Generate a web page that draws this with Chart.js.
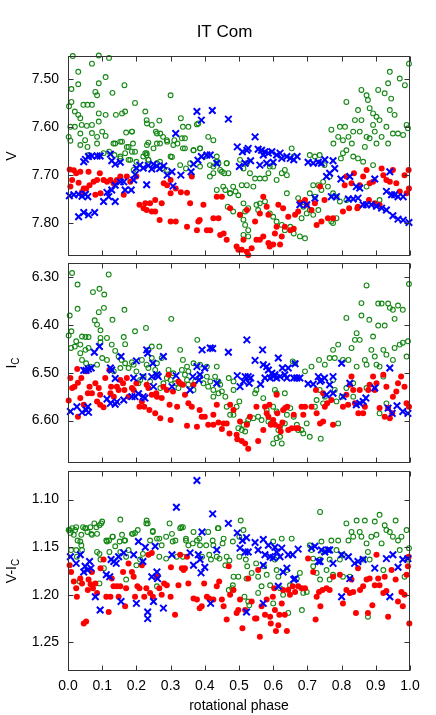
<!DOCTYPE html>
<html>
<head>
<meta charset="utf-8">
<script src="https://cdn.jsdelivr.net/npm/chart.js@4.4.1/dist/chart.umd.min.js"></script>
<style>
  html, body { margin: 0; padding: 0; background: #fff; }
  #wrap { position: relative; width: 436px; height: 715px; }
  #wrap canvas { position: absolute; left: 0; top: 0; }
</style>
</head>
<body>
<div id="wrap">
  <canvas id="c1" width="436" height="715"></canvas>
  <canvas id="c2" width="436" height="715"></canvas>
  <canvas id="c3" width="436" height="715"></canvas>
</div>
<script>
const titleText = 'IT Com';
const xTitle = 'rotational phase';
const xTicks = [0, 0.1, 0.2, 0.3, 0.4, 0.5, 0.6, 0.7, 0.8, 0.9, 1.0];
const vTicks = [7.50, 7.60, 7.70, 7.80];
const iTicks = [6.30, 6.40, 6.50, 6.60];
const ciTicks = [1.10, 1.15, 1.20, 1.25];

// [phase, magnitude] pairs
const vGreen = [[0.014,7.451],[0.03,7.484],[0.01,7.52],[0.03,7.51],[0.09,7.45],[0.12,7.455],[0.07,7.467],[0.11,7.495],[0.09,7.508],[0.08,7.526],[0.085,7.533],[0.13,7.528],[0.165,7.512],[0.003,7.556],[0.01,7.547],[0.045,7.553],[0.057,7.553],[0.07,7.553],[0.02,7.567],[0.03,7.574],[0.036,7.581],[0.11,7.574],[0.09,7.571],[0.14,7.574],[0.158,7.571],[0.167,7.567],[0.196,7.549],[0.007,7.599],[0.02,7.599],[0.04,7.595],[0.055,7.597],[0.07,7.595],[0.09,7.588],[0.002,7.62],[0.007,7.628],[0.036,7.613],[0.05,7.627],[0.07,7.612],[0.085,7.62],[0.1,7.609],[0.11,7.618],[0.036,7.637],[0.057,7.641],[0.085,7.634],[0.133,7.634],[0.153,7.63],[0.17,7.611],[0.187,7.609],[0.172,7.641],[0.19,7.634],[0.187,7.651],[0.06,7.658],[0.104,7.654],[0.12,7.651],[0.136,7.658],[0.153,7.661],[0.177,7.668],[0.2,7.672],[0.22,7.661],[0.23,7.658],[0.235,7.668],[0.26,7.675],[0.29,7.689],[0.275,7.686],[0.226,7.567],[0.23,7.585],[0.245,7.595],[0.267,7.586],[0.257,7.609],[0.27,7.613],[0.3,7.533],[0.33,7.581],[0.336,7.599],[0.311,7.627],[0.342,7.623],[0.336,7.644],[0.32,7.634],[0.29,7.63],[0.278,7.62],[0.26,7.634],[0.235,7.632],[0.23,7.654],[0.3,7.661],[0.367,7.648],[0.386,7.644],[0.377,7.594],[0.41,7.62],[0.425,7.627],[0.4,7.661],[0.435,7.661],[0.44,7.675],[0.425,7.682],[0.45,7.693],[0.464,7.675],[0.457,7.696],[0.386,7.682],[0.345,7.686],[0.46,7.731],[0.474,7.738],[0.49,7.734],[0.467,7.766],[0.483,7.776],[0.503,7.783],[0.518,7.776],[0.527,7.769],[0.513,7.793],[0.518,7.804],[0.527,7.815],[0.513,7.825],[0.527,7.828],[0.503,7.668],[0.513,7.686],[0.523,7.675],[0.532,7.696],[0.547,7.707],[0.561,7.707],[0.576,7.707],[0.523,7.721],[0.542,7.724],[0.551,7.762],[0.561,7.759],[0.556,7.773],[0.576,7.755],[0.586,7.696],[0.59,7.682],[0.6,7.682],[0.61,7.71],[0.625,7.696],[0.64,7.7],[0.634,7.689],[0.66,7.661],[0.654,7.644],[0.64,7.738],[0.59,7.78],[0.6,7.787],[0.61,7.797],[0.625,7.804],[0.634,7.815],[0.65,7.808],[0.66,7.822],[0.678,7.828],[0.693,7.832],[0.673,7.748],[0.688,7.766],[0.683,7.79],[0.698,7.78],[0.707,7.773],[0.717,7.783],[0.732,7.773],[0.722,7.745],[0.707,7.738],[0.717,7.721],[0.732,7.721],[0.741,7.731],[0.746,7.714],[0.76,7.724],[0.775,7.738],[0.785,7.745],[0.77,7.797],[0.785,7.79],[0.775,7.8],[0.707,7.658],[0.722,7.661],[0.736,7.658],[0.75,7.679],[0.765,7.703],[0.77,7.605],[0.795,7.599],[0.81,7.599],[0.804,7.627],[0.79,7.62],[0.776,7.634],[0.82,7.62],[0.83,7.634],[0.834,7.609],[0.814,7.547],[0.839,7.585],[0.848,7.564],[0.858,7.522],[0.873,7.533],[0.877,7.543],[0.858,7.585],[0.853,7.609],[0.873,7.62],[0.868,7.641],[0.834,7.661],[0.848,7.665],[0.863,7.672],[0.814,7.648],[0.804,7.654],[0.798,7.665],[0.882,7.56],[0.892,7.571],[0.902,7.578],[0.911,7.585],[0.892,7.595],[0.897,7.609],[0.882,7.623],[0.902,7.634],[0.907,7.522],[0.926,7.529],[0.945,7.54],[0.936,7.508],[0.941,7.484],[0.97,7.498],[0.985,7.512],[0.997,7.467],[0.917,7.62],[0.931,7.599],[0.941,7.564],[0.955,7.574],[0.95,7.613],[0.965,7.613],[0.98,7.616],[0.994,7.602],[0.99,7.595],[0.936,7.634],[0.892,7.679],[0.911,7.752],[0.795,7.755],[0.814,7.752],[0.873,7.724],
  [0.138,7.634],[0.158,7.63],[0.177,7.641],[0.196,7.651],[0.167,7.654],[0.153,7.665],[0.182,7.668],[0.231,7.637],[0.25,7.644],[0.269,7.634],[0.289,7.627],[0.308,7.637],[0.333,7.623],[0.342,7.644],[0.367,7.648],[0.386,7.644],[0.26,7.613],[0.187,7.609],[0.226,7.654],[0.235,7.668],[0.304,7.662],[0.328,7.679],[0.357,7.675],[0.415,7.679],[0.435,7.672],[0.445,7.689],[0.425,7.696],[0.464,7.675],[0.469,7.696],[0.415,7.703],[0.454,7.724],[0.483,7.724],[0.508,7.721],[0.498,7.742],[0.474,7.738],[0.513,7.759],[0.435,7.731],[0.352,7.599],[0.381,7.592],[0.231,7.592],[0.269,7.672],[0.192,7.689]];
const vBlue = [[0.004,7.743],[0.017,7.741],[0.031,7.74],[0.041,7.744],[0.051,7.74],[0.058,7.745],[0.031,7.787],[0.046,7.778],[0.06,7.783],[0.078,7.778],[0.046,7.672],[0.051,7.667],[0.06,7.661],[0.07,7.66],[0.085,7.66],[0.094,7.66],[0.124,7.656],[0.128,7.67],[0.138,7.677],[0.153,7.673],[0.104,7.755],[0.114,7.736],[0.119,7.745],[0.128,7.731],[0.138,7.755],[0.138,7.721],[0.153,7.714],[0.163,7.714],[0.167,7.731],[0.185,7.731],[0.192,7.71],[0.196,7.699],[0.2,7.685],[0.21,7.679],[0.22,7.685],[0.23,7.72],[0.235,7.68],[0.245,7.687],[0.25,7.677],[0.26,7.681],[0.268,7.686],[0.28,7.681],[0.29,7.7],[0.304,7.693],[0.307,7.723],[0.315,7.613],[0.33,7.7],[0.36,7.693],[0.377,7.567],[0.39,7.585],[0.422,7.565],[0.469,7.583],[0.367,7.677],[0.38,7.669],[0.39,7.661],[0.406,7.658],[0.416,7.658],[0.435,7.675],[0.495,7.641],[0.501,7.682],[0.51,7.651],[0.523,7.648],[0.527,7.644],[0.518,7.675],[0.534,7.67],[0.547,7.62],[0.556,7.646],[0.566,7.648],[0.576,7.651],[0.571,7.658],[0.561,7.679],[0.581,7.675],[0.586,7.654],[0.596,7.651],[0.6,7.673],[0.61,7.658],[0.62,7.654],[0.625,7.665],[0.64,7.661],[0.65,7.665],[0.66,7.668],[0.67,7.661],[0.678,7.762],[0.698,7.762],[0.702,7.673],[0.717,7.675],[0.732,7.673],[0.741,7.675],[0.722,7.748],[0.751,7.668],[0.756,7.703],[0.765,7.696],[0.775,7.67],[0.78,7.686],[0.77,7.745],[0.785,7.745],[0.798,7.708],[0.82,7.75],[0.824,7.703],[0.834,7.75],[0.848,7.748],[0.843,7.724],[0.853,7.727],[0.863,7.762],[0.873,7.762],[0.887,7.762],[0.897,7.708],[0.902,7.765],[0.917,7.769],[0.931,7.773],[0.941,7.693],[0.931,7.734],[0.946,7.741],[0.955,7.741],[0.965,7.745],[0.98,7.745],[0.95,7.785],[0.965,7.792],[0.98,7.794],[0.997,7.799]];
const vRed = [[0.005,7.688],[0.007,7.724],[0.012,7.71],[0.017,7.69],[0.024,7.696],[0.036,7.693],[0.031,7.716],[0.041,7.735],[0.046,7.728],[0.053,7.728],[0.06,7.693],[0.063,7.721],[0.075,7.714],[0.08,7.741],[0.085,7.71],[0.093,7.696],[0.095,7.738],[0.104,7.71],[0.114,7.714],[0.124,7.71],[0.133,7.717],[0.143,7.71],[0.153,7.703],[0.163,7.741],[0.172,7.703],[0.182,7.714],[0.2,7.703],[0.209,7.762],[0.221,7.769],[0.226,7.759],[0.23,7.773],[0.24,7.759],[0.245,7.776],[0.255,7.752],[0.255,7.776],[0.268,7.794],[0.274,7.759],[0.28,7.717],[0.29,7.721],[0.3,7.71],[0.3,7.738],[0.3,7.797],[0.315,7.797],[0.315,7.728],[0.33,7.736],[0.348,7.737],[0.348,7.808],[0.357,7.759],[0.362,7.703],[0.377,7.815],[0.381,7.797],[0.385,7.794],[0.396,7.762],[0.406,7.815],[0.416,7.815],[0.425,7.79],[0.44,7.79],[0.435,7.745],[0.45,7.745],[0.445,7.825],[0.455,7.822],[0.464,7.835],[0.474,7.769],[0.493,7.849],[0.498,7.856],[0.508,7.856],[0.523,7.86],[0.527,7.867],[0.513,7.835],[0.537,7.853],[0.503,7.783],[0.523,7.773],[0.547,7.797],[0.551,7.835],[0.561,7.835],[0.571,7.828],[0.561,7.78],[0.571,7.745],[0.581,7.766],[0.586,7.783],[0.586,7.842],[0.59,7.849],[0.6,7.845],[0.605,7.822],[0.61,7.808],[0.615,7.762],[0.62,7.845],[0.625,7.828],[0.629,7.769],[0.634,7.808],[0.644,7.787],[0.65,7.815],[0.66,7.812],[0.664,7.783],[0.673,7.776],[0.678,7.757],[0.693,7.752],[0.698,7.762],[0.712,7.773],[0.722,7.759],[0.727,7.804],[0.737,7.724],[0.741,7.797],[0.75,7.752],[0.76,7.79],[0.775,7.79],[0.804,7.776],[0.809,7.721],[0.814,7.703],[0.822,7.769],[0.829,7.717],[0.836,7.696],[0.846,7.769],[0.848,7.766],[0.853,7.721],[0.863,7.703],[0.873,7.689],[0.882,7.717],[0.892,7.714],[0.897,7.759],[0.917,7.686],[0.922,7.7],[0.931,7.71],[0.941,7.714],[0.95,7.689],[0.96,7.717],[0.97,7.734],[0.984,7.7],[0.99,7.738],[0.996,7.689],[0.997,7.728],[0.911,7.762],[0.88,7.752]];

const iGreen = [[0.012,6.291],[0.005,6.38],[0.002,6.422],[0.01,6.413],[0.009,6.448],[0.02,6.445],[0.028,6.315],[0.028,6.366],[0.024,6.434],[0.036,6.441],[0.041,6.424],[0.051,6.425],[0.06,6.425],[0.036,6.459],[0.051,6.452],[0.06,6.448],[0.041,6.473],[0.053,6.48],[0.066,6.487],[0.073,6.331],[0.092,6.324],[0.078,6.39],[0.085,6.399],[0.095,6.411],[0.09,6.373],[0.105,6.364],[0.106,6.336],[0.119,6.294],[0.114,6.427],[0.095,6.427],[0.095,6.436],[0.085,6.483],[0.1,6.469],[0.114,6.473],[0.13,6.389],[0.128,6.441],[0.138,6.454],[0.148,6.466],[0.163,6.425],[0.167,6.44],[0.165,6.368],[0.157,6.473],[0.167,6.48],[0.153,6.49],[0.134,6.497],[0.187,6.478],[0.196,6.413],[0.2,6.497],[0.216,6.473],[0.228,6.406],[0.235,6.452],[0.245,6.445],[0.221,6.508],[0.211,6.515],[0.235,6.49],[0.245,6.469],[0.26,6.48],[0.267,6.445],[0.274,6.469],[0.26,6.504],[0.279,6.522],[0.294,6.494],[0.302,6.387],[0.308,6.501],[0.3,6.515],[0.328,6.452],[0.336,6.473],[0.333,6.494],[0.342,6.504],[0.352,6.497],[0.367,6.48],[0.378,6.431],[0.386,6.483],[0.352,6.525],[0.367,6.536],[0.386,6.508],[0.396,6.522],[0.406,6.487],[0.41,6.529],[0.416,6.518],[0.425,6.536],[0.435,6.487],[0.43,6.508],[0.44,6.543],[0.45,6.539],[0.425,6.55],[0.44,6.518],[0.46,6.55],[0.464,6.571],[0.47,6.511],[0.484,6.536],[0.474,6.588],[0.484,6.588],[0.493,6.571],[0.501,6.56],[0.498,6.616],[0.508,6.62],[0.518,6.623],[0.513,6.609],[0.523,6.606],[0.527,6.599],[0.547,6.543],[0.551,6.536],[0.542,6.595],[0.556,6.592],[0.566,6.599],[0.571,6.553],[0.581,6.578],[0.586,6.602],[0.593,6.606],[0.6,6.571],[0.605,6.536],[0.61,6.543],[0.61,6.581],[0.615,6.62],[0.62,6.634],[0.61,6.637],[0.6,6.648],[0.625,6.648],[0.62,6.613],[0.634,6.606],[0.634,6.543],[0.64,6.588],[0.65,6.574],[0.657,6.476],[0.664,6.48],[0.66,6.592],[0.669,6.609],[0.673,6.62],[0.683,6.62],[0.688,6.627],[0.693,6.497],[0.698,6.606],[0.707,6.634],[0.712,6.487],[0.722,6.571],[0.727,6.557],[0.734,6.473],[0.736,6.536],[0.739,6.638],[0.746,6.564],[0.751,6.483],[0.765,6.469],[0.775,6.452],[0.78,6.469],[0.79,6.441],[0.78,6.536],[0.785,6.56],[0.79,6.606],[0.8,6.55],[0.804,6.473],[0.814,6.385],[0.82,6.473],[0.829,6.448],[0.834,6.522],[0.844,6.417],[0.839,6.431],[0.853,6.431],[0.858,6.354],[0.858,6.38],[0.868,6.473],[0.873,6.317],[0.873,6.483],[0.881,6.389],[0.887,6.452],[0.892,6.424],[0.897,6.466],[0.902,6.483],[0.907,6.355],[0.917,6.355],[0.907,6.401],[0.926,6.401],[0.922,6.452],[0.936,6.355],[0.941,6.364],[0.95,6.368],[0.955,6.387],[0.965,6.359],[0.979,6.368],[0.97,6.441],[0.979,6.437],[0.994,6.434],[0.997,6.314],[0.955,6.448],[0.95,6.473],[0.931,6.462],[0.911,6.487],[0.99,6.466],[0.844,6.487],[0.814,6.532],[0.834,6.55],[0.873,6.532],[0.911,6.585],[0.931,6.564],[0.922,6.508],[0.775,6.515],[0.751,6.55],
  [0.177,6.49],[0.192,6.483],[0.206,6.522],[0.24,6.518],[0.255,6.494],[0.289,6.511],[0.314,6.522],[0.348,6.515],[0.372,6.518],[0.406,6.508],[0.445,6.525],[0.484,6.518],[0.348,6.487],[0.323,6.532],[0.27,6.532],[0.23,6.483]];
const iBlue = [[0.007,6.581],[0.026,6.571],[0.041,6.583],[0.053,6.578],[0.06,6.583],[0.058,6.571],[0.046,6.495],[0.053,6.495],[0.06,6.492],[0.068,6.49],[0.077,6.457],[0.092,6.445],[0.114,6.555],[0.124,6.564],[0.138,6.566],[0.143,6.561],[0.163,6.557],[0.124,6.49],[0.128,6.494],[0.138,6.512],[0.155,6.466],[0.187,6.55],[0.196,6.55],[0.206,6.544],[0.22,6.55],[0.225,6.553],[0.192,6.511],[0.2,6.475],[0.219,6.508],[0.23,6.452],[0.233,6.459],[0.245,6.508],[0.248,6.48],[0.25,6.529],[0.26,6.504],[0.264,6.508],[0.279,6.466],[0.304,6.529],[0.316,6.506],[0.357,6.536],[0.365,6.508],[0.377,6.487],[0.383,6.515],[0.386,6.504],[0.392,6.452],[0.4,6.49],[0.416,6.448],[0.423,6.449],[0.435,6.522],[0.469,6.457],[0.495,6.506],[0.503,6.529],[0.513,6.518],[0.518,6.508],[0.523,6.431],[0.527,6.508],[0.53,6.522],[0.534,6.511],[0.547,6.474],[0.563,6.524],[0.569,6.452],[0.571,6.483],[0.576,6.511],[0.581,6.487],[0.586,6.494],[0.591,6.511],[0.596,6.501],[0.6,6.508],[0.605,6.504],[0.61,6.511],[0.615,6.469],[0.62,6.508],[0.627,6.49],[0.634,6.504],[0.64,6.511],[0.644,6.49],[0.66,6.511],[0.664,6.481],[0.669,6.511],[0.678,6.511],[0.702,6.523],[0.717,6.524],[0.732,6.508],[0.737,6.518],[0.741,6.515],[0.75,6.511],[0.765,6.525],[0.775,6.508],[0.756,6.546],[0.775,6.543],[0.8,6.48],[0.804,6.55],[0.824,6.522],[0.843,6.567],[0.853,6.564],[0.863,6.56],[0.871,6.553],[0.897,6.532],[0.936,6.574],[0.948,6.585],[0.962,6.569],[0.979,6.581],[0.994,6.585],[0.941,6.49]];
const iRed = [[0.002,6.558],[0.007,6.511],[0.012,6.532],[0.019,6.529],[0.027,6.492],[0.029,6.521],[0.029,6.592],[0.036,6.553],[0.039,6.511],[0.046,6.567],[0.053,6.497],[0.058,6.543],[0.063,6.529],[0.07,6.543],[0.08,6.522],[0.085,6.56],[0.09,6.532],[0.094,6.546],[0.094,6.567],[0.104,6.572],[0.109,6.511],[0.121,6.494],[0.124,6.543],[0.126,6.529],[0.134,6.55],[0.143,6.529],[0.148,6.536],[0.153,6.515],[0.161,6.522],[0.165,6.536],[0.172,6.511],[0.177,6.55],[0.187,6.532],[0.192,6.536],[0.2,6.522],[0.209,6.571],[0.216,6.56],[0.223,6.571],[0.23,6.525],[0.235,6.532],[0.238,6.578],[0.245,6.546],[0.255,6.585],[0.258,6.543],[0.26,6.55],[0.27,6.595],[0.274,6.553],[0.279,6.529],[0.289,6.536],[0.294,6.504],[0.297,6.567],[0.3,6.599],[0.307,6.539],[0.319,6.571],[0.323,6.518],[0.328,6.522],[0.336,6.525],[0.342,6.546],[0.348,6.611],[0.352,6.564],[0.362,6.571],[0.367,6.525],[0.377,6.613],[0.385,6.578],[0.391,6.592],[0.4,6.592],[0.41,6.609],[0.425,6.609],[0.425,6.588],[0.435,6.567],[0.44,6.604],[0.45,6.618],[0.455,6.606],[0.464,6.606],[0.472,6.627],[0.474,6.567],[0.484,6.578],[0.493,6.63],[0.495,6.639],[0.503,6.602],[0.508,6.643],[0.518,6.648],[0.527,6.659],[0.523,6.609],[0.532,6.592],[0.551,6.571],[0.556,6.643],[0.571,6.62],[0.576,6.571],[0.581,6.585],[0.586,6.592],[0.589,6.567],[0.593,6.609],[0.6,6.599],[0.605,6.609],[0.61,6.546],[0.612,6.585],[0.618,6.613],[0.622,6.623],[0.627,6.604],[0.629,6.578],[0.635,6.574],[0.641,6.571],[0.644,6.62],[0.654,6.616],[0.66,6.588],[0.667,6.616],[0.673,6.616],[0.683,6.571],[0.688,6.588],[0.693,6.571],[0.712,6.571],[0.725,6.536],[0.727,6.585],[0.737,6.606],[0.746,6.602],[0.746,6.543],[0.751,6.571],[0.758,6.564],[0.77,6.557],[0.775,6.609],[0.804,6.571],[0.814,6.546],[0.819,6.567],[0.824,6.525],[0.829,6.508],[0.834,6.536],[0.839,6.564],[0.849,6.585],[0.853,6.536],[0.863,6.585],[0.868,6.571],[0.878,6.536],[0.882,6.525],[0.892,6.508],[0.897,6.536],[0.902,6.522],[0.911,6.574],[0.922,6.504],[0.931,6.529],[0.936,6.574],[0.941,6.595],[0.95,6.55],[0.96,6.539],[0.965,6.522],[0.974,6.508],[0.984,6.529],[0.99,6.564],[0.997,6.571],[0.948,6.585],[0.926,6.592]];

const ciGreen = [[0.002,1.132],[0.007,1.135],[0.012,1.13],[0.017,1.137],[0.021,1.132],[0.028,1.143],[0.036,1.144],[0.044,1.129],[0.05,1.13],[0.057,1.134],[0.065,1.129],[0.07,1.137],[0.077,1.125],[0.085,1.136],[0.092,1.127],[0.1,1.123],[0.009,1.153],[0.041,1.153],[0.026,1.16],[0.085,1.155],[0.095,1.163],[0.114,1.144],[0.12,1.143],[0.105,1.172],[0.13,1.139],[0.138,1.149],[0.153,1.121],[0.158,1.137],[0.167,1.143],[0.153,1.155],[0.177,1.153],[0.187,1.136],[0.196,1.135],[0.2,1.169],[0.211,1.163],[0.23,1.122],[0.233,1.125],[0.24,1.143],[0.248,1.133],[0.26,1.141],[0.274,1.148],[0.267,1.16],[0.26,1.191],[0.297,1.125],[0.304,1.136],[0.314,1.143],[0.318,1.16],[0.328,1.13],[0.336,1.129],[0.345,1.143],[0.352,1.148],[0.367,1.134],[0.377,1.143],[0.386,1.148],[0.392,1.16],[0.41,1.134],[0.425,1.148],[0.418,1.163],[0.435,1.16],[0.44,1.13],[0.455,1.141],[0.46,1.169],[0.464,1.16],[0.47,1.195],[0.48,1.193],[0.484,1.181],[0.498,1.181],[0.505,1.122],[0.513,1.132],[0.52,1.163],[0.524,1.17],[0.537,1.177],[0.522,1.183],[0.516,1.202],[0.527,1.207],[0.53,1.211],[0.55,1.167],[0.556,1.181],[0.556,1.198],[0.566,1.191],[0.573,1.17],[0.581,1.179],[0.591,1.19],[0.6,1.144],[0.605,1.163],[0.61,1.174],[0.615,1.181],[0.62,1.193],[0.6,1.209],[0.629,1.2],[0.625,1.141],[0.64,1.174],[0.644,1.219],[0.649,1.19],[0.654,1.141],[0.669,1.183],[0.678,1.177],[0.684,1.216],[0.688,1.198],[0.698,1.197],[0.707,1.148],[0.712,1.153],[0.717,1.17],[0.717,1.162],[0.727,1.177],[0.737,1.113],[0.741,1.144],[0.737,1.163],[0.746,1.155],[0.756,1.174],[0.761,1.153],[0.765,1.163],[0.77,1.143],[0.775,1.179],[0.785,1.153],[0.79,1.143],[0.795,1.163],[0.804,1.158],[0.814,1.125],[0.82,1.143],[0.829,1.134],[0.834,1.139],[0.844,1.122],[0.853,1.134],[0.858,1.139],[0.868,1.122],[0.873,1.146],[0.877,1.155],[0.882,1.163],[0.877,1.223],[0.887,1.139],[0.897,1.123],[0.902,1.137],[0.911,1.116],[0.917,1.146],[0.926,1.127],[0.931,1.132],[0.941,1.134],[0.95,1.139],[0.958,1.122],[0.965,1.143],[0.97,1.153],[0.975,1.139],[0.984,1.181],[0.99,1.132],[0.997,1.151],[0.994,1.163],[0.922,1.174],[0.863,1.163],[0.824,1.181],[0.804,1.181],[0.737,1.184],[0.765,1.184],
  [0.005,1.132],[0.024,1.129],[0.039,1.137],[0.053,1.13],[0.068,1.136],[0.083,1.129],[0.097,1.125],[0.112,1.143],[0.131,1.139],[0.151,1.144],[0.165,1.143],[0.19,1.136],[0.204,1.132],[0.229,1.125],[0.248,1.134],[0.267,1.141],[0.287,1.139],[0.306,1.144],[0.331,1.129],[0.345,1.141],[0.365,1.146],[0.384,1.141],[0.404,1.148],[0.423,1.143],[0.438,1.13],[0.452,1.146],[0.482,1.144],[0.501,1.139],[0.092,1.157],[0.121,1.155],[0.17,1.16],[0.219,1.157],[0.287,1.162],[0.336,1.16],[0.413,1.158],[0.443,1.162],[0.472,1.164],[0.501,1.16],[0.024,1.153],[0.039,1.148],[0.034,1.186],[0.092,1.188],[0.17,1.184],[0.482,1.19]];
const ciBlue = [[0.007,1.16],[0.024,1.167],[0.036,1.158],[0.046,1.176],[0.05,1.17],[0.057,1.174],[0.063,1.165],[0.067,1.172],[0.08,1.202],[0.094,1.216],[0.112,1.179],[0.122,1.181],[0.126,1.163],[0.134,1.165],[0.141,1.167],[0.148,1.16],[0.155,1.207],[0.163,1.156],[0.192,1.158],[0.2,1.209],[0.206,1.144],[0.219,1.165],[0.226,1.15],[0.233,1.218],[0.233,1.225],[0.245,1.181],[0.25,1.207],[0.255,1.149],[0.26,1.176],[0.262,1.183],[0.279,1.214],[0.304,1.158],[0.317,1.108],[0.357,1.156],[0.367,1.169],[0.377,1.08],[0.381,1.158],[0.386,1.163],[0.389,1.177],[0.392,1.134],[0.4,1.171],[0.417,1.209],[0.423,1.115],[0.435,1.153],[0.469,1.125],[0.495,1.135],[0.503,1.151],[0.51,1.143],[0.518,1.155],[0.522,1.14],[0.527,1.155],[0.522,1.218],[0.547,1.145],[0.556,1.153],[0.571,1.142],[0.571,1.169],[0.571,1.209],[0.576,1.158],[0.586,1.148],[0.591,1.16],[0.6,1.161],[0.605,1.15],[0.61,1.155],[0.615,1.191],[0.62,1.16],[0.625,1.151],[0.629,1.176],[0.64,1.172],[0.644,1.158],[0.657,1.158],[0.66,1.184],[0.664,1.183],[0.673,1.152],[0.712,1.151],[0.722,1.149],[0.732,1.165],[0.737,1.165],[0.741,1.153],[0.751,1.155],[0.761,1.153],[0.765,1.153],[0.775,1.167],[0.8,1.158],[0.8,1.202],[0.82,1.16],[0.824,1.183],[0.838,1.167],[0.848,1.165],[0.863,1.163],[0.897,1.172],[0.931,1.162],[0.941,1.202],[0.95,1.158],[0.965,1.171],[0.979,1.163],[0.994,1.162]];
const ciRed = [[0.005,1.169],[0.009,1.176],[0.017,1.186],[0.024,1.193],[0.026,1.202],[0.036,1.183],[0.041,1.188],[0.046,1.23],[0.053,1.228],[0.058,1.195],[0.06,1.184],[0.066,1.189],[0.07,1.176],[0.073,1.193],[0.08,1.188],[0.085,1.198],[0.095,1.172],[0.104,1.163],[0.112,1.202],[0.119,1.218],[0.124,1.202],[0.128,1.183],[0.133,1.191],[0.143,1.191],[0.148,1.202],[0.153,1.191],[0.161,1.176],[0.167,1.212],[0.17,1.193],[0.177,1.167],[0.187,1.176],[0.192,1.181],[0.196,1.202],[0.203,1.191],[0.209,1.193],[0.216,1.169],[0.223,1.202],[0.229,1.193],[0.235,1.158],[0.24,1.198],[0.245,1.156],[0.248,1.202],[0.26,1.181],[0.267,1.193],[0.274,1.2],[0.281,1.188],[0.289,1.19],[0.3,1.202],[0.301,1.171],[0.313,1.221],[0.323,1.19],[0.328,1.158],[0.333,1.172],[0.338,1.174],[0.342,1.172],[0.348,1.16],[0.352,1.188],[0.367,1.204],[0.377,1.205],[0.385,1.214],[0.391,1.212],[0.398,1.188],[0.406,1.202],[0.413,1.204],[0.425,1.205],[0.435,1.191],[0.442,1.186],[0.45,1.205],[0.455,1.212],[0.464,1.226],[0.47,1.17],[0.474,1.2],[0.484,1.195],[0.493,1.219],[0.498,1.216],[0.503,1.205],[0.51,1.235],[0.518,1.216],[0.527,1.183],[0.537,1.207],[0.547,1.225],[0.551,1.225],[0.556,1.174],[0.561,1.244],[0.566,1.212],[0.576,1.221],[0.581,1.205],[0.591,1.223],[0.593,1.23],[0.599,1.202],[0.603,1.193],[0.605,1.216],[0.608,1.238],[0.615,1.232],[0.618,1.221],[0.625,1.209],[0.629,1.195],[0.634,1.221],[0.64,1.238],[0.644,1.195],[0.649,1.2],[0.657,1.191],[0.664,1.197],[0.673,1.191],[0.683,1.193],[0.693,1.193],[0.702,1.162],[0.717,1.176],[0.724,1.226],[0.727,1.202],[0.734,1.197],[0.738,1.212],[0.744,1.195],[0.756,1.193],[0.765,1.195],[0.775,1.181],[0.795,1.179],[0.804,1.209],[0.814,1.195],[0.824,1.198],[0.829,1.184],[0.834,1.197],[0.842,1.219],[0.848,1.172],[0.854,1.195],[0.863,1.191],[0.873,1.184],[0.877,1.219],[0.882,1.183],[0.89,1.211],[0.897,1.19],[0.902,1.158],[0.907,1.183],[0.911,1.19],[0.922,1.198],[0.926,1.181],[0.931,1.196],[0.936,1.223],[0.946,1.174],[0.958,1.184],[0.965,1.207],[0.975,1.197],[0.979,1.212],[0.984,1.2],[0.99,1.179],[0.994,1.17],[0.998,1.23],[0.996,1.16]];

const FONT = '"Liberation Sans", Arial, Helvetica, sans-serif';
const GREEN = 'rgb(20,135,20)';
const BLUE = '#0000ff';
const RED = '#ff0000';

const toXY = arr => arr.map(p => ({ x: p[0], y: p[1] }));

// box, inward ticks on all four sides, titles
const framePlugin = {
  id: 'frame',
  afterDraw(chart, args, opts) {
    const { ctx, chartArea: a, scales } = chart;
    const sx = scales.x, sy = scales.y;
    ctx.save();
    ctx.strokeStyle = '#333';
    ctx.lineWidth = 1;
    const L = Math.round(a.left) + 0.5, R = Math.round(a.right) - 0.5;
    const T = Math.round(a.top) + 0.5, B = Math.round(a.bottom) - 0.5;
    ctx.strokeRect(L, T, R - L, B - T);
    ctx.beginPath();
    xTicks.forEach(v => {
      const px = Math.round(sx.getPixelForValue(v)) + 0.5;
      ctx.moveTo(px, B); ctx.lineTo(px, B - 5);
      ctx.moveTo(px, T); ctx.lineTo(px, T + 5);
    });
    opts.yTicks.forEach(v => {
      const py = Math.round(sy.getPixelForValue(v)) + 0.5;
      ctx.moveTo(L, py); ctx.lineTo(L + 5, py);
      ctx.moveTo(R, py); ctx.lineTo(R - 5, py);
    });
    ctx.stroke();

    // y axis title with optional subscript
    ctx.fillStyle = '#000';
    ctx.textBaseline = 'alphabetic';
    ctx.textAlign = 'left';
    const cy = (a.top + a.bottom) / 2;
    ctx.translate(15.5, cy);
    ctx.rotate(-Math.PI / 2);
    ctx.font = '14px ' + FONT;
    const wMain = ctx.measureText(opts.main).width;
    ctx.font = '10px ' + FONT;
    const wSub = opts.sub ? ctx.measureText(opts.sub).width : 0;
    const x0 = -(wMain + wSub) / 2;
    ctx.font = '14px ' + FONT;
    ctx.fillText(opts.main, x0, 0);
    if (opts.sub) {
      ctx.font = '10px ' + FONT;
      ctx.fillText(opts.sub, x0 + wMain, 3.5);
    }
    ctx.restore();

    if (opts.title) {
      ctx.save();
      ctx.fillStyle = '#000';
      ctx.font = '17px ' + FONT;
      ctx.textAlign = 'center';
      ctx.textBaseline = 'alphabetic';
      ctx.fillText(opts.title, 224.5, 36.5);
      ctx.restore();
    }
  }
};

function makePanel(id, green, blue, red, yMin, yMax, yTicks, top, bottom, yMain, ySub, showX, title) {
  const xHeight = showX ? 715 - bottom : 0;
  return new Chart(document.getElementById(id), {
    type: 'scatter',
    data: {
      datasets: [
        {
          label: 'blue',
          data: toXY(blue),
          pointStyle: 'crossRot',
          radius: 4.6,
          borderWidth: 2,
          borderColor: BLUE,
          backgroundColor: BLUE,
          clip: 5
        },
        {
          label: 'red',
          data: toXY(red),
          pointStyle: 'circle',
          radius: 3,
          borderWidth: 0,
          backgroundColor: RED,
          borderColor: RED,
          clip: 5
        },
        {
          label: 'green',
          data: toXY(green),
          pointStyle: 'circle',
          radius: 2.4,
          borderWidth: 1.1,
          borderColor: GREEN,
          backgroundColor: 'rgba(0,0,0,0)',
          clip: 5
        }
      ]
    },
    options: {
      responsive: false,
      animation: false,
      events: [],
      layout: { padding: { left: 0, right: 26, top: top, bottom: 715 - bottom - xHeight } },
      plugins: {
        legend: { display: false },
        tooltip: { enabled: false },
        frame: { yTicks: yTicks, main: yMain, sub: ySub, title: title }
      },
      scales: {
        x: {
          type: 'linear',
          min: 0, max: 1,
          grid: { display: false, drawTicks: false },
          border: { display: false },
          afterBuildTicks: s => { s.ticks = xTicks.map(v => ({ value: v })); },
          afterFit: s => { s.height = xHeight; },
          ticks: {
            display: showX,
            padding: 7,
            color: '#000',
            font: { family: FONT, size: 14 },
            callback: v => v.toFixed(1)
          },
          title: {
            display: showX,
            text: xTitle,
            color: '#000',
            font: { family: FONT, size: 14 },
            padding: { top: 0, bottom: 0 }
          }
        },
        y: {
          type: 'linear',
          reverse: true,
          min: yMin, max: yMax,
          grid: { display: false, drawTicks: false },
          border: { display: false },
          afterBuildTicks: s => { s.ticks = yTicks.map(v => ({ value: v })); },
          afterFit: s => { s.width = 68; },
          ticks: {
            padding: 9,
            color: '#000',
            font: { family: FONT, size: 14 },
            callback: v => v.toFixed(2)
          }
        }
      }
    },
    plugins: [framePlugin]
  });
}

makePanel('c1', vGreen, vBlue, vRed, 7.451, 7.869, vTicks, 56, 256, 'V', '', false, titleText);
makePanel('c2', iGreen, iBlue, iRed, 6.270, 6.689, iTicks, 263, 463, 'I', 'C', false, '');
makePanel('c3', ciGreen, ciBlue, ciRed, 1.070, 1.280, ciTicks, 471, 671, 'V-I', 'C', true, '');
</script>
</body>
</html>
